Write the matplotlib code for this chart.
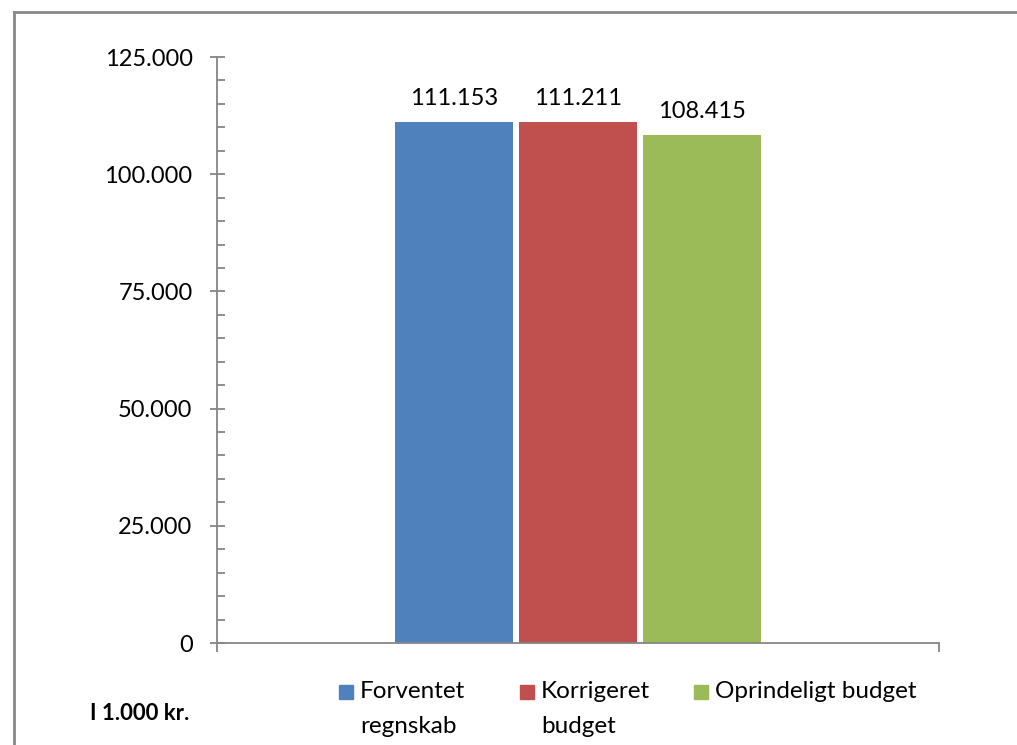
import matplotlib.pyplot as plt
from matplotlib.patches import Rectangle
from matplotlib.lines import Line2D
from matplotlib.ticker import MultipleLocator, FuncFormatter

plt.rcParams['font.family'] = ['Lato', 'DejaVu Sans']

series = ["Forventet regnskab", "Korrigeret budget", "Oprindeligt budget"]
legend_labels = ["Forventet\nregnskab", "Korrigeret\nbudget", "Oprindeligt budget"]
values = [111153, 111211, 108415]
colors = ["#4F81BD", "#C0504D", "#9BBB59"]
unit_text = "I 1.000 kr."

def dk(v, pos=None):
    return f"{int(round(v)):,}".replace(",", ".")

fig = plt.figure(figsize=(10.17, 7.45), dpi=100)
ax = fig.add_axes([217/1017, 1-643/745, (939-217)/1017, (643-57)/745])

step = 124/722
width = 118/722
xs = [(i - 1) * step for i in range(len(values))]
bars = ax.bar(xs, values, width=width, color=colors)
ax.bar_label(bars, labels=[dk(v) for v in values], padding=9, fontsize=17)

ax.set_xlim(-0.5, 0.5)
ax.set_ylim(0, 125000)
ax.yaxis.set_major_locator(MultipleLocator(25000))
ax.yaxis.set_minor_locator(MultipleLocator(5000))
ax.yaxis.set_major_formatter(FuncFormatter(dk))
ax.set_xticks([-0.5, 0.5])
ax.set_xticklabels([])

grey = "#868686"
for s in ["top", "right"]:
    ax.spines[s].set_visible(False)
for s in ["left", "bottom"]:
    ax.spines[s].set_color(grey)
    ax.spines[s].set_linewidth(1.3)
ax.tick_params(axis='y', which='major', direction='inout', length=10.8, width=1.3,
               color=grey, pad=12.2, labelsize=17)
ax.tick_params(axis='y', which='minor', direction='in', length=5.8, width=1.3, color=grey)
ax.tick_params(axis='x', which='major', direction='out', length=6.5, width=1.3, color=grey)

# legend drawn by hand so the swatch lines up with the first text line
leg_x = [339, 520, 694]
for x, lab, c in zip(leg_x, legend_labels, colors):
    fig.patches.append(Rectangle((x/1017, 1-699/745), 14/1017, 14/745,
                                 transform=fig.transFigure, color=c))
    fig.text((x+21)/1017, 1-681/745, lab, fontsize=17.5, va='top', ha='left',
             linespacing=1.85)

fig.text(90/1017, 1-713/745, unit_text, fontsize=16, fontweight='bold', va='center')

# frame: only left and top edges are visible in the crop
frame_x = 14/1017
frame_y = 1 - 11.5/745
fig.lines.append(Line2D([frame_x, frame_x], [0, frame_y], transform=fig.transFigure,
                        color="#888888", linewidth=2))
fig.lines.append(Line2D([frame_x, 1], [frame_y, frame_y], transform=fig.transFigure,
                        color="#888888", linewidth=2))

fig.savefig("out.png", dpi=100)
